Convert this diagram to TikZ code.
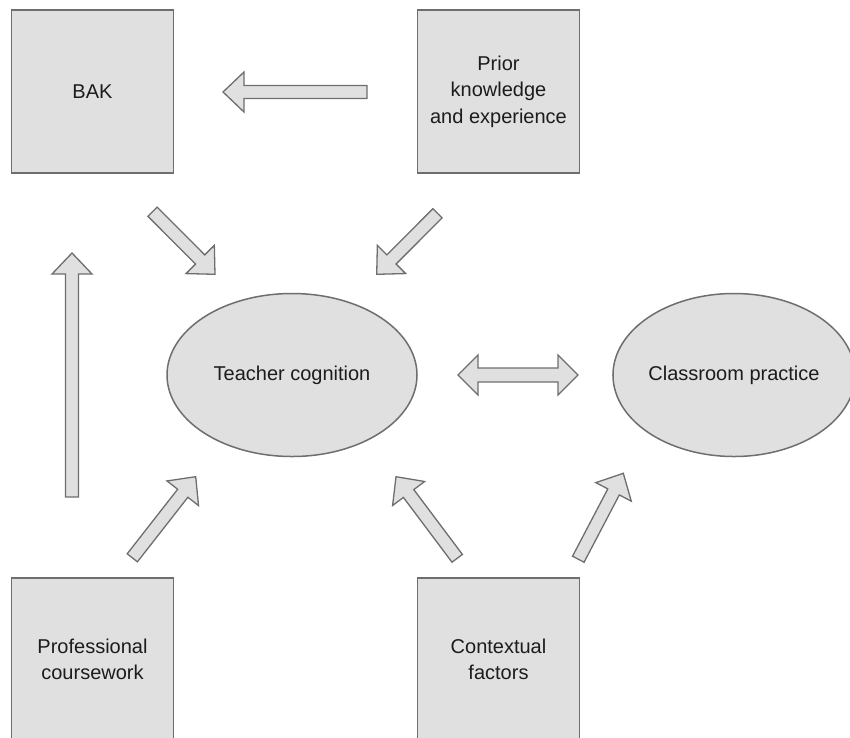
\documentclass[tikz,border=0pt]{standalone}
\usepackage{fontspec}
\setmainfont{Liberation Sans}
\usetikzlibrary{calc,shapes.geometric}
\definecolor{boxfill}{HTML}{E0E0E0}
\definecolor{boxline}{HTML}{6E6E6E}
\definecolor{txt}{HTML}{1C1C1C}
\tikzset{
  blk/.style={draw=boxline, fill=boxfill, line width=1.5pt, text=txt,
    font=\fontsize{20}{26.5}\selectfont, align=center, inner sep=0pt},
  boxnode/.style={blk, rectangle, minimum width=162pt, minimum height=163pt},
  ellnode/.style={blk, ellipse},
  fatarrow/.style={draw=boxline, fill=boxfill, line width=1.3pt, line join=miter},
}
% block arrow from tail #1 to tip #2
\newcommand\blockarrow[2]{%
  \coordinate (h-#1-#2) at ($(#2)!21pt!(#1)$);
  \draw[fatarrow] ($(#1)!6.5pt!90:(#2)$) -- ($(h-#1-#2)!6.5pt!90:(#2)$)
    -- ($(h-#1-#2)!20pt!90:(#2)$) -- (#2) -- ($(h-#1-#2)!20pt!-90:(#2)$)
    -- ($(h-#1-#2)!6.5pt!-90:(#2)$) -- ($(#1)!6.5pt!-90:(#2)$) -- cycle;
}
\begin{document}
\begin{tikzpicture}[x=1pt,y=-1pt]
\useasboundingbox (0,0) rectangle (850,737);
\clip (0,0) rectangle (850,737);

% boxes
\node[boxnode] (bak)   at (92.5,91.5)  {BAK};
\node[boxnode] (prior) at (498.5,91.5) {Prior\\knowledge\\and experience};
\node[boxnode] (prof)  at (92.5,659.5) {Professional\\coursework};
\node[boxnode] (ctx)   at (498.5,659.5) {Contextual\\factors};

% ellipses
\node[ellnode, minimum width=250pt, minimum height=163pt] (tc) at (292,375) {Teacher cognition};
\node[ellnode, minimum width=230pt, minimum height=163pt] (cp) at (734,375) {Classroom practice};

% arrow end points
\coordinate (a1t) at (367,92);     \coordinate (a1h) at (223,92);
\coordinate (a2t) at (152.5,211.7); \coordinate (a2h) at (215,274.3);
\coordinate (a3t) at (437.5,213.3); \coordinate (a3h) at (376.7,274.3);
\coordinate (a4t) at (72,497);     \coordinate (a4h) at (72,253);
\coordinate (a5t) at (132.3,557.8); \coordinate (a5h) at (195.7,476.7);
\coordinate (a6t) at (457.2,558.3); \coordinate (a6h) at (396,476.7);
\coordinate (a7t) at (578.3,559.2); \coordinate (a7h) at (623.3,473.3);
\coordinate (dl) at (458,375);     \coordinate (dr) at (578,375);

\blockarrow{a1t}{a1h}
\blockarrow{a2t}{a2h}
\blockarrow{a3t}{a3h}
\blockarrow{a4t}{a4h}
\blockarrow{a5t}{a5h}
\blockarrow{a6t}{a6h}
\blockarrow{a7t}{a7h}

% double arrow
\coordinate (dlh) at ($(dl)!20pt!(dr)$);
\coordinate (drh) at ($(dr)!20pt!(dl)$);
\draw[fatarrow] (dl) -- ($(dlh)!20pt!90:(dr)$) -- ($(dlh)!7pt!90:(dr)$)
  -- ($(drh)!7pt!-90:(dl)$) -- ($(drh)!20pt!-90:(dl)$) -- (dr)
  -- ($(drh)!20pt!90:(dl)$) -- ($(drh)!7pt!90:(dl)$)
  -- ($(dlh)!7pt!-90:(dr)$) -- ($(dlh)!20pt!-90:(dr)$) -- cycle;
\end{tikzpicture}
\end{document}
